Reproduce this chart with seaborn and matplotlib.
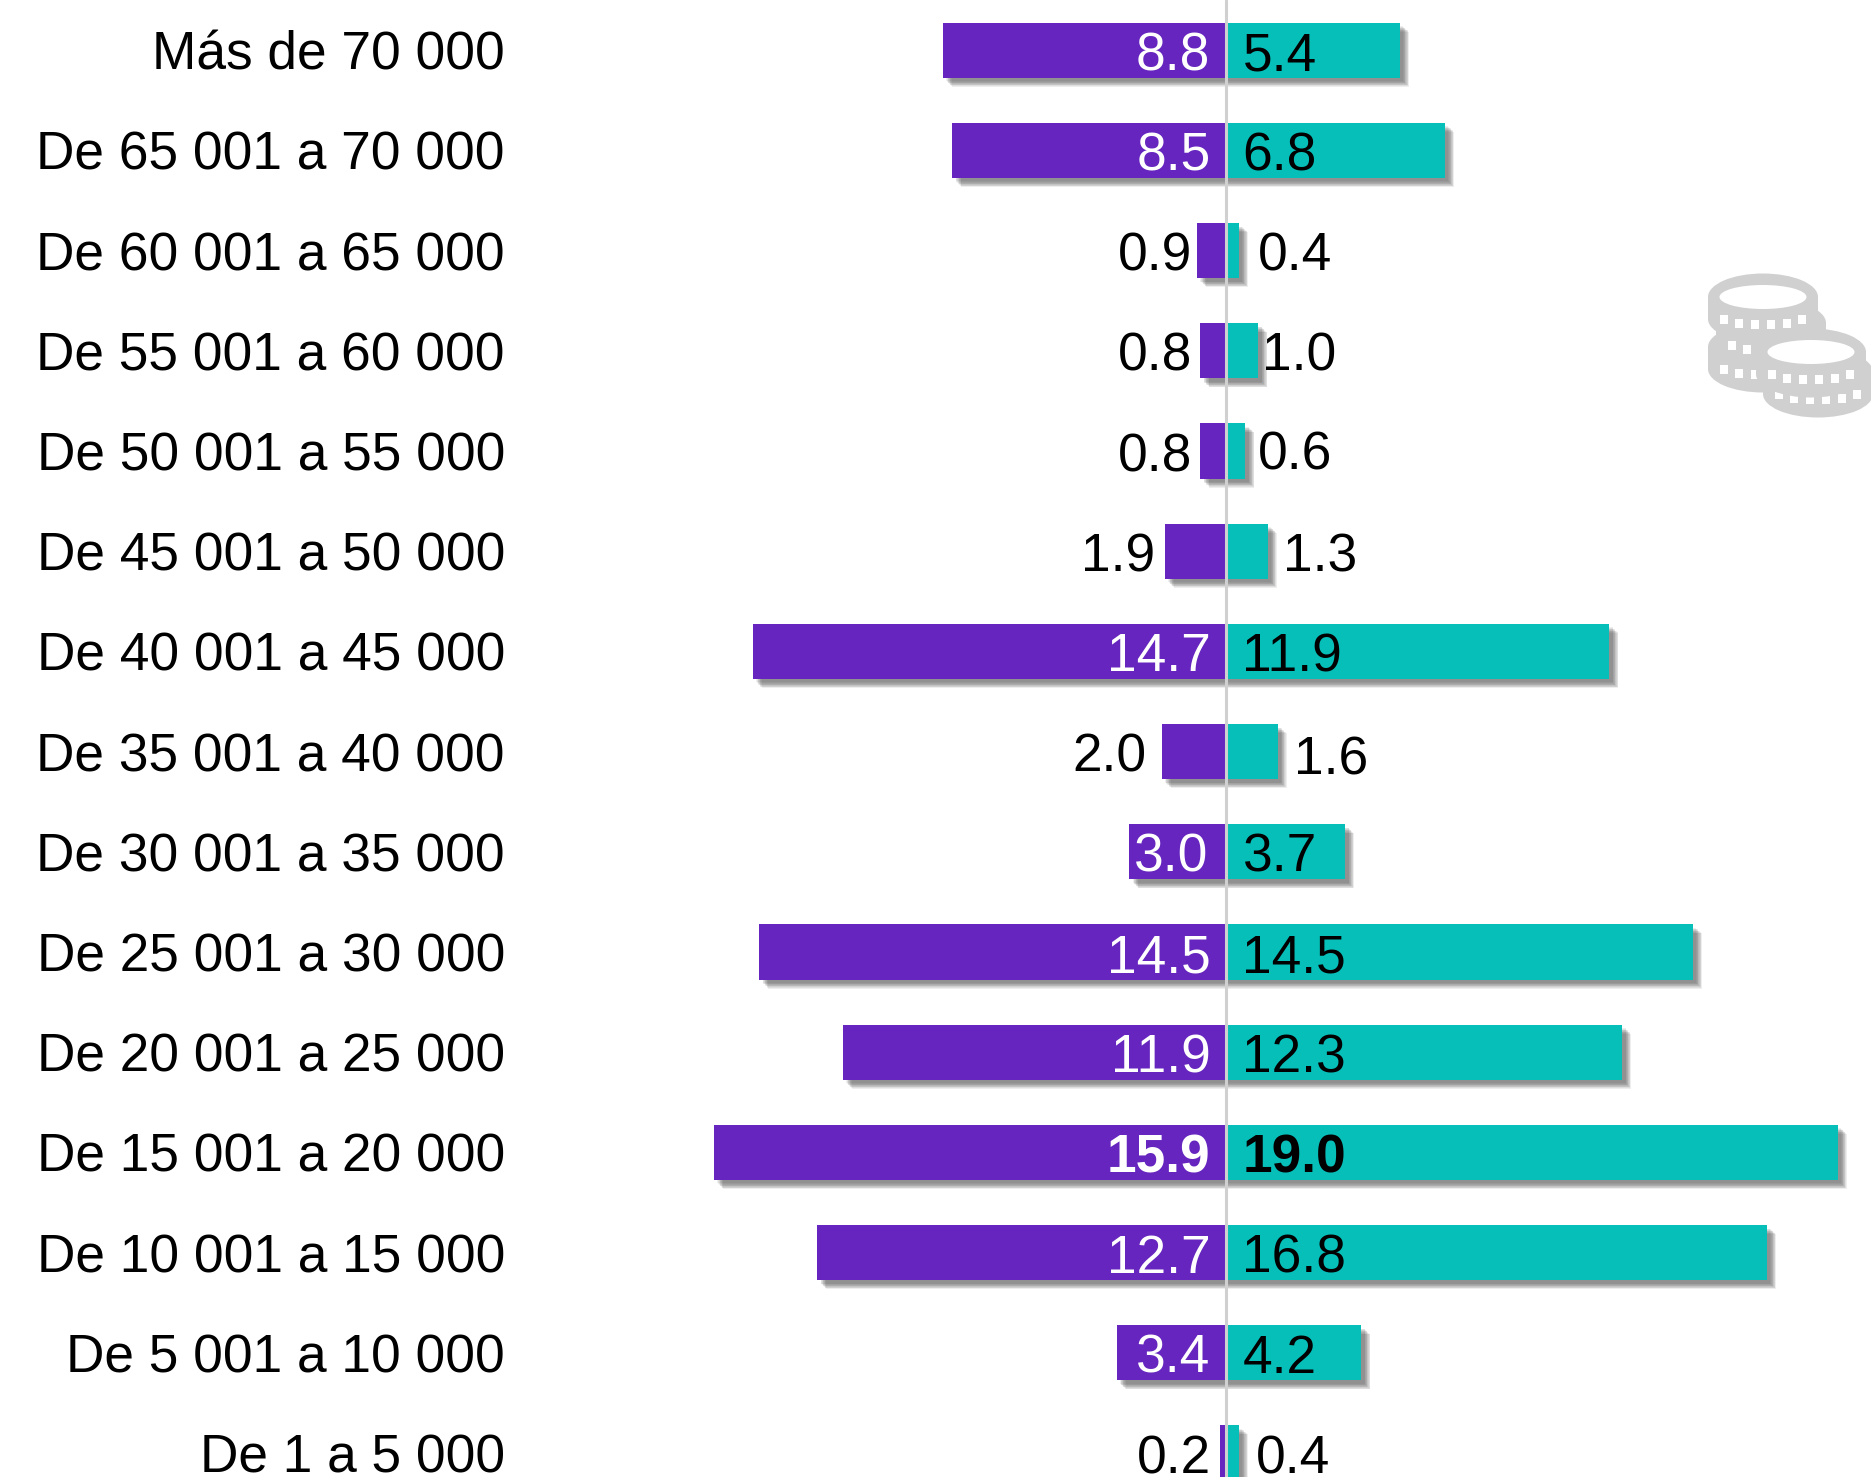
import matplotlib
matplotlib.use("Agg")
import matplotlib.pyplot as plt
import matplotlib.patheffects as pe
from matplotlib.patches import Ellipse, Rectangle
import pandas as pd
import seaborn as sns

income_ranges = ["Más de 70 000", "De 65 001 a 70 000", "De 60 001 a 65 000", "De 55 001 a 60 000",
                 "De 50 001 a 55 000", "De 45 001 a 50 000", "De 40 001 a 45 000", "De 35 001 a 40 000",
                 "De 30 001 a 35 000", "De 25 001 a 30 000", "De 20 001 a 25 000", "De 15 001 a 20 000",
                 "De 10 001 a 15 000", "De 5 001 a 10 000", "De 1 a 5 000"]
purple_pct = [8.8, 8.5, 0.9, 0.8, 0.8, 1.9, 14.7, 2.0, 3.0, 14.5, 11.9, 15.9, 12.7, 3.4, 0.2]
teal_pct = [5.4, 6.8, 0.4, 1.0, 0.6, 1.3, 11.9, 1.6, 3.7, 14.5, 12.3, 19.0, 16.8, 4.2, 0.4]

PURPLE = "#6525BE"
TEAL = "#07BFB9"
GRAY = "#D0D0D0"
WIDTH, HEIGHT = 1871, 1477
PX_PER_UNIT = 32.2
ROW_PX = 100.2
CENTER_PX = 1226.0
FIRST_ROW_PX = 50.2
FONT_SIZE = 38.3

sns.set_theme(style="white")
plt.rcParams["font.family"] = ["Liberation Sans", "DejaVu Sans"]

df = pd.DataFrame({"range": income_ranges, "purple": purple_pct, "teal": teal_pct})
df["purple_neg"] = -df["purple"]

fig = plt.figure(figsize=(WIDTH / 100, HEIGHT / 100), dpi=100)
ax = fig.add_axes([0, 0, 1, 1])

sns.barplot(data=df, x="purple_neg", y="range", color=PURPLE, saturation=1, width=0.55, ax=ax)
sns.barplot(data=df, x="teal", y="range", color=TEAL, saturation=1, width=0.55, ax=ax)

# soft shadow under the bars, stacked so the edge fades out
shadow = []
for off in [6.5, 6.0, 5.5, 5.0, 4.5, 4.0, 3.5, 3.0, 2.5]:
    shadow.append(pe.SimplePatchShadow(offset=(off, -off), shadow_rgbFace="#444444", alpha=0.09))
shadow.append(pe.Normal())
for bar in ax.patches:
    bar.set_path_effects(shadow)
    bar.set_linewidth(0)

ax.axvline(0, color=GRAY, lw=2.2, zorder=5)

ax.set_xlim(-CENTER_PX / PX_PER_UNIT, (WIDTH - CENTER_PX) / PX_PER_UNIT)
ax.set_ylim((HEIGHT - FIRST_ROW_PX) / ROW_PX, -FIRST_ROW_PX / ROW_PX)
ax.set_xlabel("")
ax.set_ylabel("")
ax.set_xticks([])
ax.tick_params(axis="y", length=0, pad=-505 * 0.72, labelsize=FONT_SIZE, labelcolor="black")
sns.despine(ax=ax, left=True, bottom=True)

# gaps (px) between a short bar and its outside label
left_gap = {2: 5, 3: 8, 4: 8, 5: 10, 7: 15, 14: 9}
right_gap = {2: 19, 3: 4, 4: 13, 5: 15, 7: 16, 14: 17}
nudge_y = {4: -2, 7: 3}
for i in range(len(income_ranges)):
    weight = "bold" if i == 11 else "normal"
    base = i + 20 / ROW_PX
    inner = 18 if i == 8 else 15.5
    if i in left_gap:
        ax.text(-purple_pct[i] - left_gap[i] / PX_PER_UNIT, base, f"{purple_pct[i]:.1f}", ha="right", va="baseline",
                fontsize=FONT_SIZE, color="black", zorder=6)
    else:
        ax.text(-inner / PX_PER_UNIT, base, f"{purple_pct[i]:.1f}", ha="right", va="baseline",
                fontsize=FONT_SIZE, color="white", fontweight=weight, zorder=6)
    if i in right_gap:
        ax.text(teal_pct[i] + right_gap[i] / PX_PER_UNIT, base + nudge_y.get(i, 0) / ROW_PX, f"{teal_pct[i]:.1f}",
                ha="left", va="baseline", fontsize=FONT_SIZE, color="black", zorder=6)
    else:
        ax.text(16.5 / PX_PER_UNIT, base, f"{teal_pct[i]:.1f}", ha="left", va="baseline",
                fontsize=FONT_SIZE, color="black", fontweight=weight, zorder=6)

# coins icon, drawn in pixel space on an overlay
icon = fig.add_axes([0, 0, 1, 1], facecolor="none")
icon.set_xlim(0, WIDTH)
icon.set_ylim(HEIGHT, 0)
icon.axis("off")


def coin(cx, cy):
    icon.add_patch(Ellipse((cx, cy + 22), 110, 47, color=GRAY, lw=0))
    icon.add_patch(Rectangle((cx - 55, cy), 110, 22, color=GRAY, lw=0))
    icon.add_patch(Ellipse((cx, cy), 110, 47, color=GRAY, lw=0))
    icon.add_patch(Ellipse((cx, cy), 87, 24, color="white", lw=0))
    for dx, dy in [(-39, 22), (-24, 26), (-8, 27), (8, 27), (24, 26), (39, 22)]:
        icon.add_patch(Rectangle((cx + dx - 4, cy + dy - 4), 8.5, 9, color="white", lw=0))


for cx, cy in [(1763, 347), (1771, 323), (1763, 297), (1818, 372), (1811, 352)]:
    coin(cx, cy)

fig.savefig("out.png", dpi=100)
